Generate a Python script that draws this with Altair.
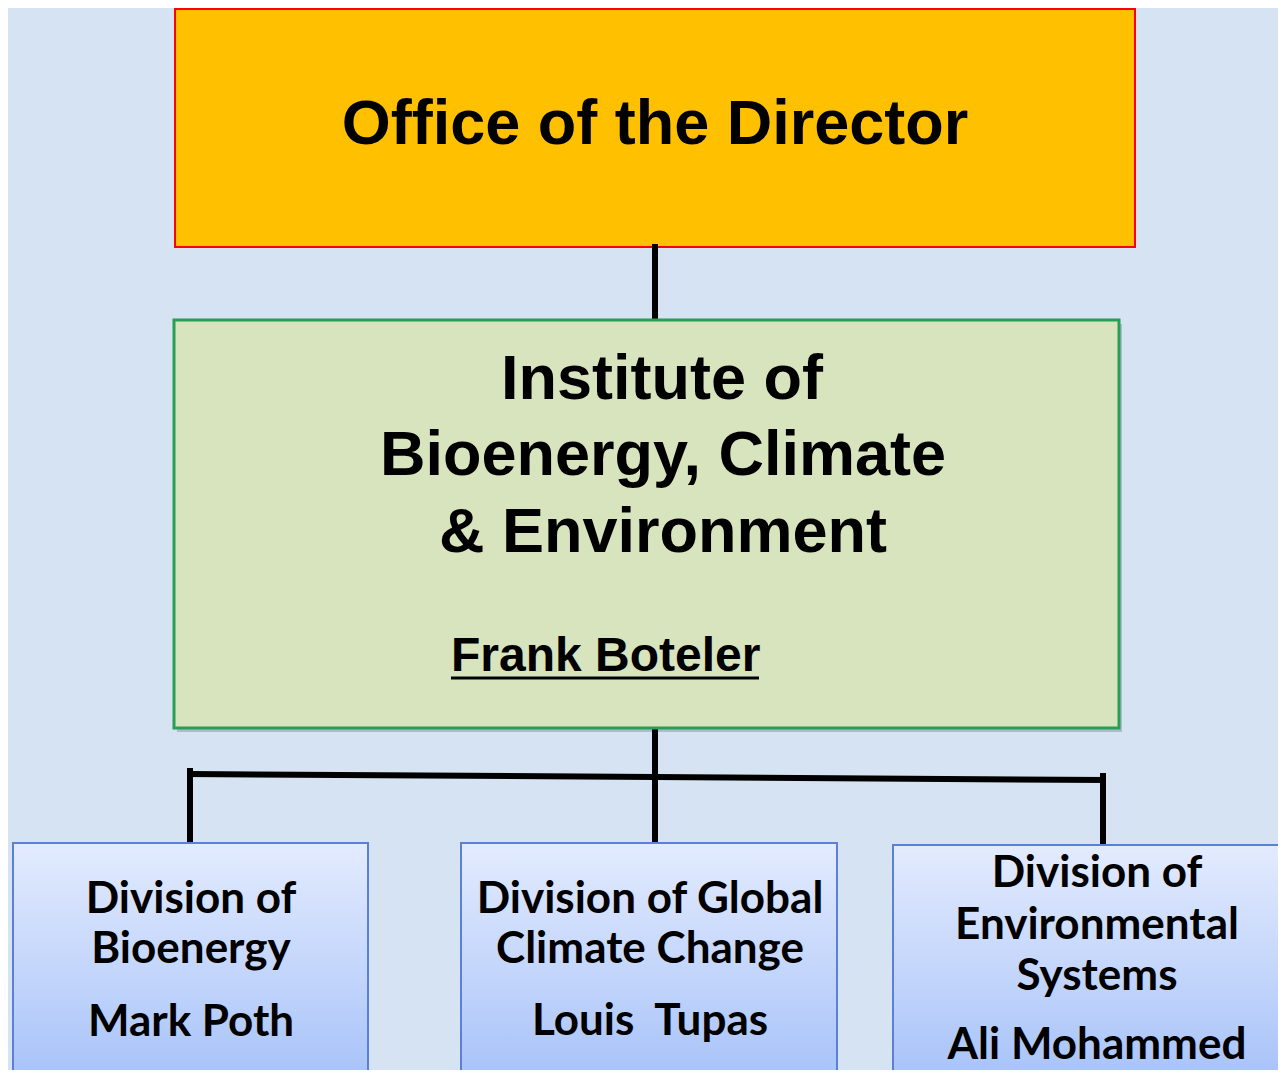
import altair as alt
import pandas as pd

# ---- boxes (reference pixel coordinates) ----
box_id = ["director", "institute", "bioenergy", "climate", "environment"]
box_left = [175, 174, 13, 461, 893]
box_right = [1135, 1119, 368, 837, 1300]
box_top = [9, 320, 843, 843, 845]
box_bottom = [247, 728, 1095, 1095, 1095]

# ---- connector segments ----
seg_x1 = [655, 655, 190, 190, 1103]
seg_y1 = [247, 728, 774, 771, 776]
seg_x2 = [655, 655, 1103, 190, 1103]
seg_y2 = [320, 843, 780, 843, 845]

# ---- header texts ----
head_text = ["Office of the Director", "Institute of", "Bioenergy, Climate", "& Environment"]
head_x = [655, 662, 663, 663]
head_y = [144, 399, 475, 552]

name_text = ["Frank Boteler"]
name_x = [451]
name_y = [671]
underline_x1 = [451]
underline_x2 = [759]
underline_y = [678]

# ---- division texts ----
div_text = ["Division of", "Bioenergy", "Mark Poth",
            "Division of Global", "Climate Change", "Louis\u00a0 Tupas",
            "Division of", "Environmental", "Systems", "Ali Mohammed"]
div_x = [191, 191, 191, 650, 650, 650, 1097, 1097, 1097, 1097]
div_y = [913, 963, 1036, 913, 963, 1035, 887, 939, 990, 1059]

W, H = 1270, 1062
xs = alt.Scale(domain=[8, 8 + W], nice=False, zero=False)
ys = alt.Scale(domain=[8, 8 + H], nice=False, zero=False, reverse=True)

boxes = pd.DataFrame({"id": box_id, "x0": box_left, "x1": box_right,
                      "y0": box_top, "y1": box_bottom})
segs = pd.DataFrame({"x": seg_x1, "y": seg_y1, "x2": seg_x2, "y2": seg_y2})
heads = pd.DataFrame({"t": head_text, "x": head_x, "y": head_y})
names = pd.DataFrame({"t": name_text, "x": name_x, "y": name_y})
under = pd.DataFrame({"x": underline_x1, "x2": underline_x2, "y": underline_y})
divs = pd.DataFrame({"t": div_text, "x": div_x, "y": div_y})


def rect_enc(base):
    return base.encode(
        x=alt.X("x0:Q", scale=xs, axis=None),
        x2="x1:Q",
        y=alt.Y("y0:Q", scale=ys, axis=None),
        y2="y1:Q",
    )


director = rect_enc(
    alt.Chart(boxes).transform_filter(alt.datum.id == "director")
    .mark_rect(fill="#FFC000", stroke="#FF0000", strokeWidth=2, clip=True)
)

inst_shadow = alt.Chart(boxes).transform_filter(alt.datum.id == "institute").transform_calculate(
    sx0="datum.x0 + 3", sx1="datum.x1 + 3", sy0="datum.y0 + 4", sy1="datum.y1 + 4"
).mark_rect(fill="#7d8a99", opacity=0.45).encode(
    x=alt.X("sx0:Q", scale=xs, axis=None), x2="sx1:Q",
    y=alt.Y("sy0:Q", scale=ys, axis=None), y2="sy1:Q",
)

institute = rect_enc(
    alt.Chart(boxes).transform_filter(alt.datum.id == "institute")
    .mark_rect(fill="#D7E4BD", stroke="#2A9E55", strokeWidth=3)
)

grad = alt.Gradient(
    gradient="linear",
    stops=[alt.GradientStop(color="#E3EBFE", offset=0),
           alt.GradientStop(color="#C4D6FB", offset=0.5),
           alt.GradientStop(color="#A3C0F8", offset=1)],
    x1=0, x2=0, y1=0, y2=1,
)

divisions = rect_enc(
    alt.Chart(boxes).transform_filter(
        (alt.datum.id != "director") & (alt.datum.id != "institute"))
    .mark_rect(fill=grad, stroke="#5C80D8", strokeWidth=2, clip=True)
)

lines = alt.Chart(segs).mark_rule(color="black", strokeWidth=6, strokeCap="square").encode(
    x=alt.X("x:Q", scale=xs, axis=None), x2="x2:Q",
    y=alt.Y("y:Q", scale=ys, axis=None), y2="y2:Q",
)

head_txt = alt.Chart(heads).mark_text(
    font="Liberation Sans", fontWeight="bold", fontSize=63,
    align="center", baseline="alphabetic", color="black"
).encode(
    x=alt.X("x:Q", scale=xs, axis=None),
    y=alt.Y("y:Q", scale=ys, axis=None),
    text="t:N",
)

name_txt = alt.Chart(names).mark_text(
    font="Liberation Sans", fontWeight="bold", fontSize=48,
    align="left", baseline="alphabetic", color="black"
).encode(
    x=alt.X("x:Q", scale=xs, axis=None),
    y=alt.Y("y:Q", scale=ys, axis=None),
    text="t:N",
)

under_rule = alt.Chart(under).mark_rule(color="black", strokeWidth=3).encode(
    x=alt.X("x:Q", scale=xs, axis=None), x2="x2:Q",
    y=alt.Y("y:Q", scale=ys, axis=None),
)

div_txt = alt.Chart(divs).mark_text(
    font="Lato", fontWeight="bold", fontSize=44,
    align="center", baseline="alphabetic", color="black"
).encode(
    x=alt.X("x:Q", scale=xs, axis=None),
    y=alt.Y("y:Q", scale=ys, axis=None),
    text="t:N",
)

chart = alt.layer(
    director, inst_shadow, lines, institute, divisions,
    head_txt, name_txt, under_rule, div_txt
).properties(
    width=W, height=H, padding=0, background="#D5E3F3",
    autosize=alt.AutoSizeParams(type="none")
).configure_view(stroke=None)

chart.save("out.html", embed_options={"renderer": "svg", "actions": False})
